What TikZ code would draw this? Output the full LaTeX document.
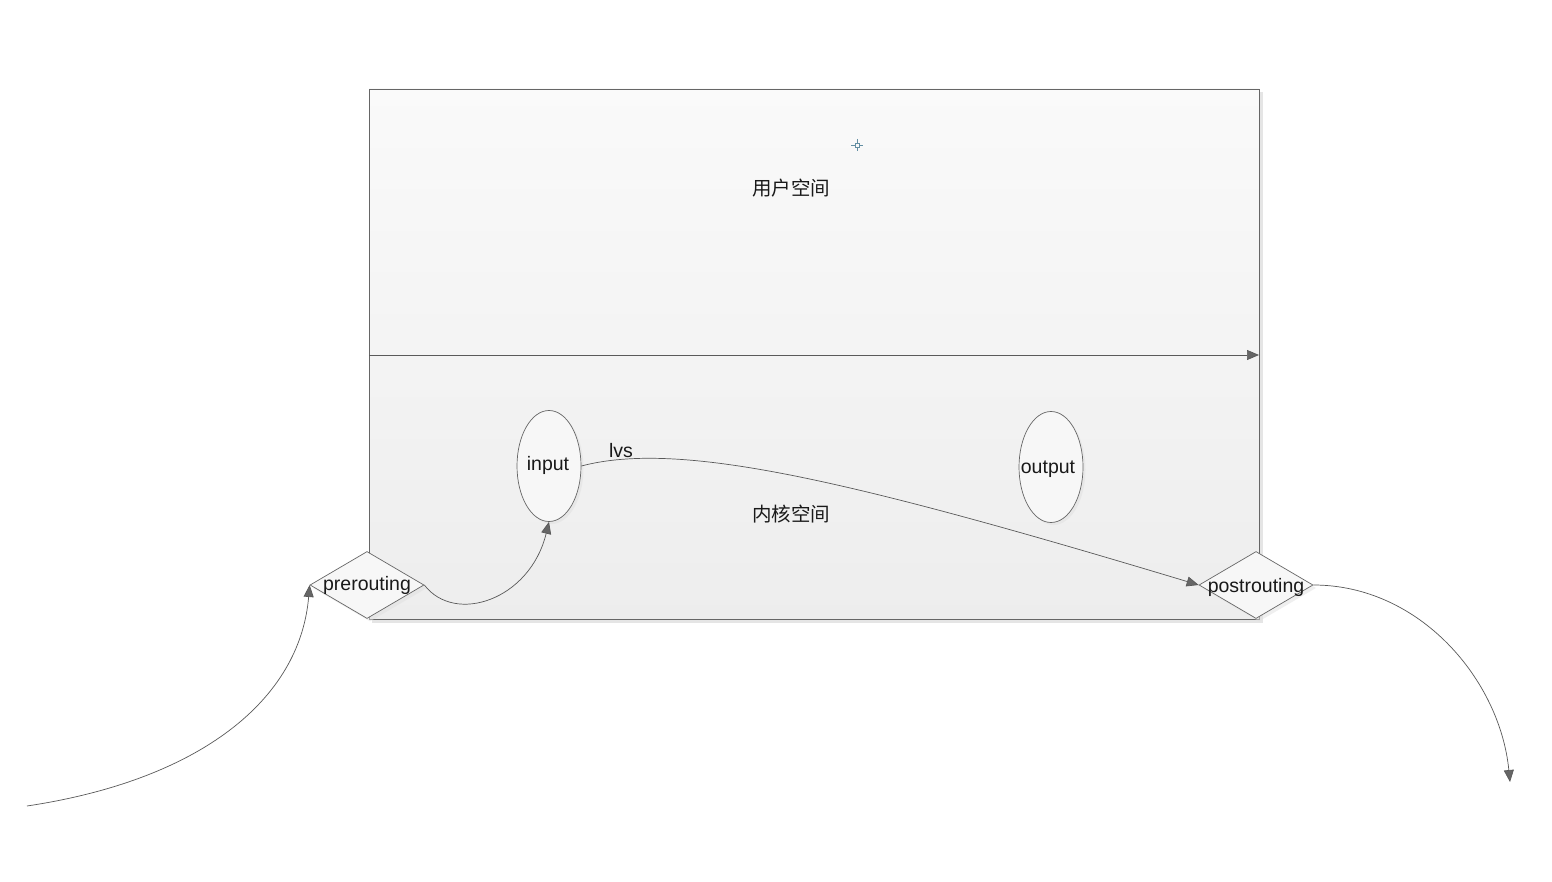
\documentclass[tikz,border=0pt]{standalone}
\usepackage{fontspec}
\setmainfont{Liberation Sans}
\newfontfamily\cjk{Noto Sans CJK SC}
\usetikzlibrary{shapes.geometric,arrows.meta,shadows}
\begin{document}
\begin{tikzpicture}[x=1pt,y=-1pt,
  line/.style={draw=black!60,line width=0.8pt},
  conn/.style={draw=black!65,line width=0.7pt,-{Triangle[length=12pt,width=10pt,fill=black!60]}},
  oval/.style={ellipse,draw=black!60,line width=0.7pt,fill=black!3,minimum width=64pt,minimum height=111pt,inner sep=0pt,
     drop shadow={shadow xshift=2.5pt,shadow yshift=-2.5pt,fill=black!12}},
  dia/.style={diamond,draw=black!60,line width=0.7pt,fill=black!3,minimum width=114pt,minimum height=67pt,inner sep=0pt,aspect=1.7,
     drop shadow={shadow xshift=3pt,shadow yshift=-3pt,fill=black!12}},
  lbl/.style={font=\fontsize{19.5}{23}\selectfont,text=black!90},
  zh/.style={font=\cjk\fontsize{19.5}{23}\selectfont,text=black!90}]
\useasboundingbox (0,0) rectangle (1552,882);
\fill[white] (0,0) rectangle (1552,882);
% shadow of panel
\fill[black!10] (372,92) rectangle (1263,623);
\shade[top color=black!2,bottom color=black!7] (369,89) rectangle (1259,619);
\draw[line] (369,89) rectangle (1259,619);
% divider
\coordinate (dl) at (369,355);
\coordinate (dr) at (1259,355);
\draw[conn] (dl) -- (dr);
% crosshair marker
\draw[draw=cyan!50!black!80,line width=0.6pt] (851,145) -- (855,145) (859,145) -- (863,145) (857,139) -- (857,143) (857,147) -- (857,151);
\draw[draw=cyan!50!black!80,line width=0.6pt] (855,143) rectangle (859,147);
% texts
\node[zh] (user) at (791,188) {用户空间};
\node[zh] (kern) at (791,514) {内核空间};
% nodes
\node[oval] (input) at (549,466) {};
\node[lbl] at (548,465) {input};
\node[oval] (output) at (1051,467) {};
\node[lbl] at (1048,469) {output};
\node[dia] (pre) at (367,585) {};
\node[lbl] at (367,585) {prerouting};
\node[dia] (post) at (1256,585) {};
\node[lbl] at (1256,587) {postrouting};
\node[lbl] (lvs) at (621,451) {lvs};
% connectors
\coordinate (src) at (27,806);
\coordinate (dst) at (1510,782);
\draw[conn] (src) .. controls (200,780) and (300,700) .. (pre.west);
\draw[conn] (pre.east) .. controls (455,625) and (530,600) .. (input.south);
\draw[conn] (input.east) .. controls (680,440) and (850,480) .. (post.west);
\draw[conn] (post.east) .. controls (1420,585) and (1500,680) .. (dst);
\end{tikzpicture}
\end{document}
